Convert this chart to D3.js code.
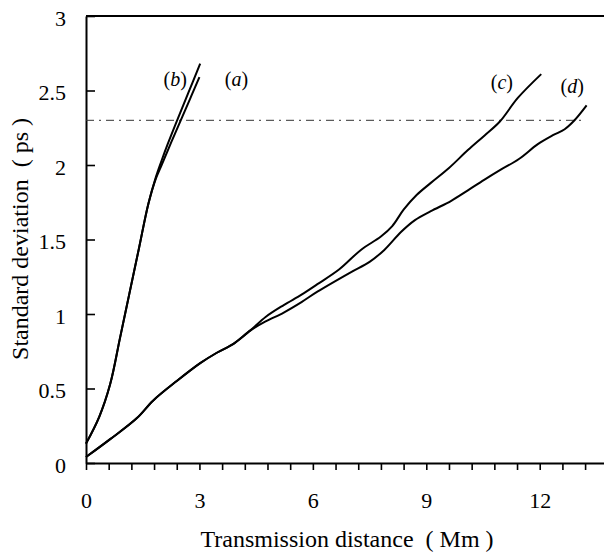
<!DOCTYPE html>
<html>
<head>
<meta charset="utf-8">
<script src="https://cdn.jsdelivr.net/npm/d3@7"></script>
<style>
  html, body { margin: 0; padding: 0; background: #fff; }
  svg text { font-family: "Liberation Serif", "Times New Roman", serif; fill: #000; }
</style>
</head>
<body>
<svg id="chart" width="604" height="554"></svg>
<script>
// ---- data ----
const xTickValues = [0, 3, 6, 9, 12];
const yTickValues = [0, 0.5, 1, 1.5, 2, 2.5, 3];
const threshold = 2.3;

const curveA_x = [0, 0.35, 0.64, 0.9, 1.15, 1.4, 1.65, 1.85, 2.0, 2.25, 2.54, 2.78, 3.0];
const curveA_y = [0.13, 0.31, 0.53, 0.84, 1.14, 1.44, 1.74, 1.91, 2.0, 2.15, 2.32, 2.46, 2.59];

const curveB_x = [0, 0.35, 0.64, 0.9, 1.15, 1.4, 1.65, 1.85, 2.0, 2.16, 2.41, 2.70, 3.02];
const curveB_y = [0.13, 0.31, 0.53, 0.84, 1.14, 1.44, 1.74, 1.92, 2.03, 2.14, 2.30, 2.48, 2.68];

const curveC_x = [0, 0.64, 1.34, 1.78, 2.40, 3.02, 3.46, 3.90, 4.35, 4.75, 5.23, 5.7, 6.12, 6.7, 7.27, 7.8, 8.1, 8.4, 8.75, 9.12, 9.6, 10.1, 10.55, 10.94, 11.42, 12.04];
const curveC_y = [0.04, 0.16, 0.30, 0.42, 0.55, 0.67, 0.74, 0.80, 0.89, 0.98, 1.06, 1.13, 1.20, 1.30, 1.43, 1.52, 1.59, 1.70, 1.80, 1.88, 1.98, 2.10, 2.20, 2.29, 2.45, 2.61];

const curveD_x = [0, 0.64, 1.34, 1.78, 2.40, 3.02, 3.46, 3.90, 4.35, 4.75, 5.23, 5.7, 6.12, 7.0, 7.5, 7.89, 8.33, 8.7, 9.12, 9.66, 10.1, 10.53, 10.98, 11.45, 11.95, 12.35, 12.66, 12.92, 13.24];
const curveD_y = [0.04, 0.16, 0.30, 0.42, 0.55, 0.67, 0.74, 0.80, 0.89, 0.95, 1.01, 1.08, 1.15, 1.28, 1.35, 1.43, 1.55, 1.63, 1.69, 1.76, 1.83, 1.90, 1.97, 2.04, 2.14, 2.20, 2.24, 2.30, 2.40];

const curveLabels = ["b", "a", "c", "d"];
const labelX = [2.36, 3.98, 11.0, 12.86];
const labelY = [2.53, 2.53, 2.51, 2.48];

// ---- layout ----
const svg = d3.select("#chart");
const mLeft = 86, mRight = 604, mTop = 16, mBottom = 463;

const x = d3.scaleLinear().domain([0, 13.7]).range([mLeft, mRight]);
const y = d3.scaleLinear().domain([0, 3]).range([mBottom, mTop]);

// top border
svg.append("line")
  .attr("x1", mLeft).attr("x2", mRight)
  .attr("y1", y(3)).attr("y2", y(3))
  .attr("stroke", "#000").attr("stroke-width", 2);

// x axis
const minorTicks = d3.range(0, 13.3, 0.6);
const xAxis = d3.axisBottom(x)
  .tickValues(minorTicks)
  .tickSizeInner(7).tickSizeOuter(0)
  .tickPadding(22)
  .tickFormat(d => {
    const r = Math.round(d * 10) / 10;
    return xTickValues.some(v => Math.abs(v - r) < 1e-6) ? d3.format("d")(r) : "";
  });
const gx = svg.append("g").attr("transform", `translate(0,${mBottom})`).call(xAxis);
gx.select(".domain").attr("stroke", "#000").attr("stroke-width", 1.8);
gx.selectAll(".tick line").attr("stroke", "#000").attr("stroke-width", 1.6);
gx.selectAll(".tick text").style("font-size", "22px").style("font-family", "'Liberation Serif', serif");

// y axis
const yAxis = d3.axisLeft(y)
  .tickValues(yTickValues)
  .tickSizeInner(-9).tickSizeOuter(0)
  .tickPadding(20)
  .tickFormat(d => d3.format("")(d));
const gy = svg.append("g").attr("transform", `translate(${mLeft},0)`).call(yAxis);
gy.select(".domain").attr("stroke", "#000").attr("stroke-width", 2);
gy.selectAll(".tick line").attr("stroke", "#000").attr("stroke-width", 1.6);
gy.selectAll(".tick text").style("font-size", "22px").attr("dy", "0.42em")
  .style("font-family", "'Liberation Serif', serif");

// threshold dash-dot line
svg.append("line")
  .attr("x1", x(0)).attr("x2", x(13.17))
  .attr("y1", y(threshold)).attr("y2", y(threshold))
  .attr("stroke", "#333").attr("stroke-width", 1)
  .attr("stroke-dasharray", "8,5,2,5");

// curves
const line = d3.line()
  .x(d => x(d[0])).y(d => y(d[1]))
  .curve(d3.curveCatmullRom.alpha(0.5));

const series = [
  [curveA_x, curveA_y],
  [curveB_x, curveB_y],
  [curveC_x, curveC_y],
  [curveD_x, curveD_y]
];
series.forEach(([xs, ys]) => {
  svg.append("path")
    .datum(xs.map((v, i) => [v, ys[i]]))
    .attr("d", line)
    .attr("fill", "none")
    .attr("stroke", "#000")
    .attr("stroke-width", 2);
});

// curve labels
curveLabels.forEach((lab, i) => {
  const t = svg.append("text")
    .attr("x", x(labelX[i])).attr("y", y(labelY[i]))
    .attr("text-anchor", "middle")
    .style("font-size", "20px");
  t.append("tspan").text("(");
  t.append("tspan").style("font-style", "italic").text(lab);
  t.append("tspan").text(")");
});

// axis titles
svg.append("text")
  .attr("x", 347).attr("y", 547)
  .attr("text-anchor", "middle")
  .style("font-size", "24px")
  .text("Transmission distance\u00a0 ( Mm )");

svg.append("text")
  .attr("transform", `translate(28,239) rotate(-90)`)
  .attr("text-anchor", "middle")
  .style("font-size", "24px")
  .text("Standard deviation\u00a0 ( ps )");
</script>
</body>
</html>
